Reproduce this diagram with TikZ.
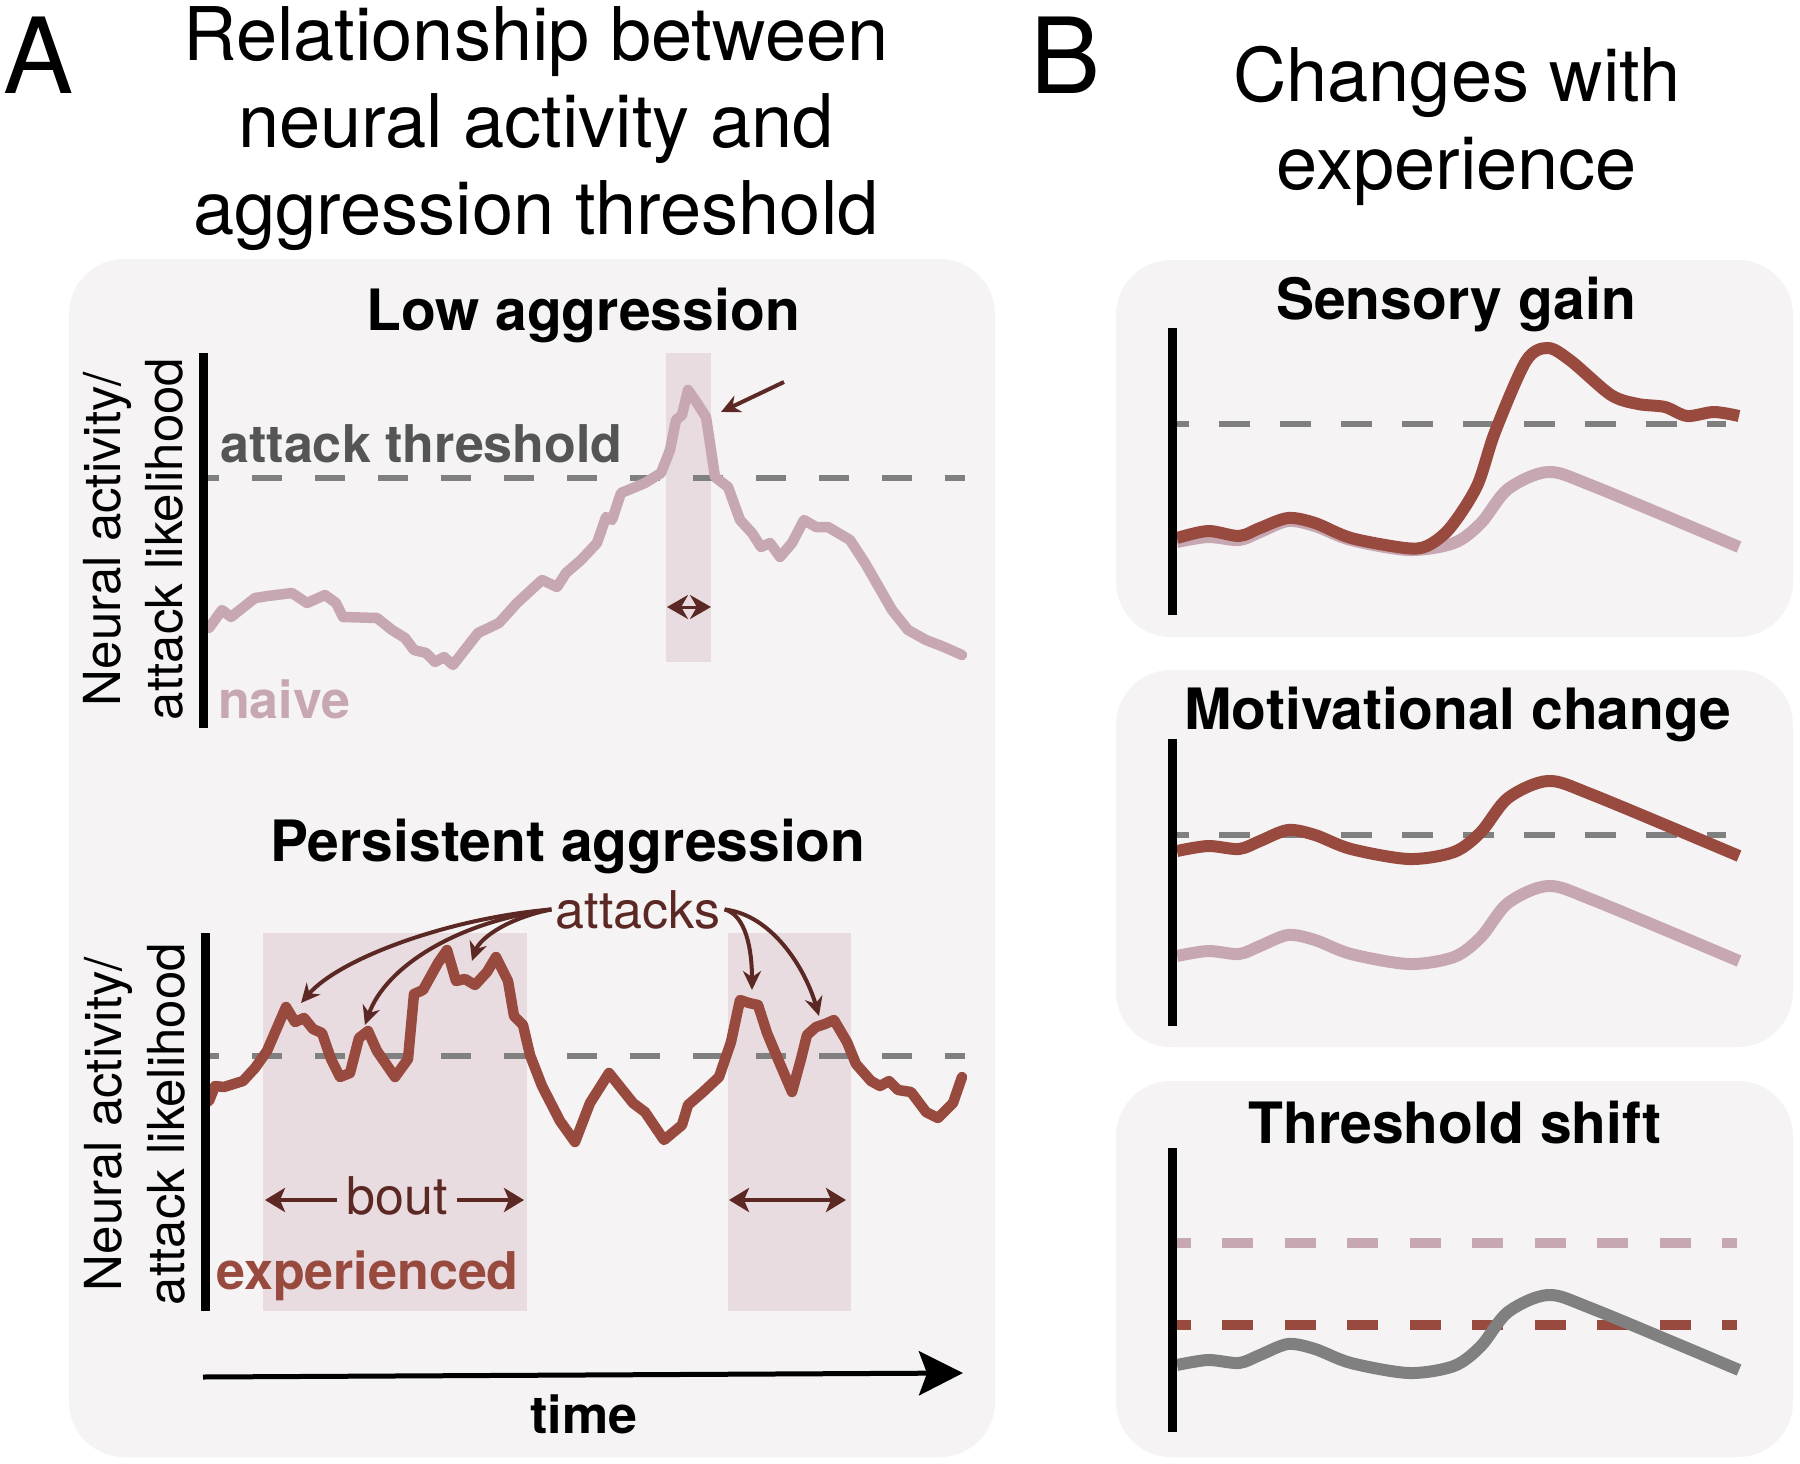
\documentclass[tikz,border=0pt]{standalone}
\usepackage{fontspec}
\setmainfont{TeX Gyre Heros}
\usetikzlibrary{arrows.meta}
\definecolor{boxbg}{RGB}{245,243,244}
\definecolor{bandc}{RGB}{232,220,224}
\definecolor{mauve}{RGB}{199,168,178}
\definecolor{expred}{RGB}{153,74,63}
\definecolor{darkbr}{RGB}{92,40,36}
\definecolor{thrgray}{RGB}{128,128,128}
\definecolor{txtgray}{RGB}{85,85,85}
\newcommand{\fsz}[1]{\fontsize{#1pt}{#1pt}\selectfont}
\newcommand{\baseshape}{plot[smooth,tension=0.5] coordinates {(1177,956) (1208,951) (1239,954) (1260,946) (1288,935) (1315,940) (1351,954) (1409,964) (1454,957) (1481,937) (1508,903) (1548,886) (1593,900) (1739,961)}}
\begin{document}
\begin{tikzpicture}[x=1pt,y=-1pt,
  panelbox/.style={fill=boxbg,rounded corners=55pt},
  bandbox/.style={fill=bandc},
  yaxis/.style={draw=black,line width=9pt},
  thrA/.style={draw=thrgray,line width=6pt,dash pattern=on 30pt off 33pt,dash phase=19pt},
  thrB/.style={draw=thrgray,line width=6pt,dash pattern=on 31pt off 30pt,dash phase=19pt},
  thrC/.style={line width=10pt,dash pattern=on 31pt off 31.5pt,dash phase=17.5pt},
  trace/.style={line width=10.5pt,line join=round,line cap=round},
  smoothtr/.style={line width=12pt,line join=round},
  attackarrow/.style={draw=darkbr,line width=4pt,-{Stealth[length=19pt,width=18pt]}},
  boutarrow/.style={draw=darkbr,line width=4pt,-{Stealth[length=20pt,width=24pt,inset=5pt]}},
  bigtitle/.style={font=\fsz{74},anchor=base,inner sep=0pt},
  letter/.style={font=\fsz{105},anchor=base west,inner sep=0pt},
  paneltitle/.style={font=\bfseries\fsz{57},anchor=base,inner sep=0pt},
  ylab/.style={font=\fsz{51},rotate=90,anchor=base,inner sep=0pt},
  boldlab/.style={font=\bfseries\fsz{52},anchor=base west,inner sep=0pt}
]
\useasboundingbox (0,0) rectangle (1800,1464);

% ---------- panel boxes ----------
\path[panelbox] (69,259) rectangle (995,1457);
\path[panelbox] (1116,260) rectangle (1793,637);
\path[panelbox] (1116,670) rectangle (1793,1047);
\path[panelbox] (1116,1081) rectangle (1793,1457);

% ---------- headings ----------
\node[letter] (labA) at (3,94) {A};
\node[letter] (labB) at (1030,94) {B};
\node[bigtitle] (tA1) at (536,61) {Relationship between};
\node[bigtitle] (tA2) at (536,147) {neural activity and};
\node[bigtitle] (tA3) at (536,234) {aggression threshold};
\node[bigtitle] (tB1) at (1457,102) {Changes with};
\node[bigtitle] (tB2) at (1457,189) {experience};

% ================= Panel A, top: low aggression =================
\node[paneltitle] (lowT) at (583,330) {Low aggression};
\path[bandbox] (666,353) rectangle (711,662);
\draw[thrA] (208,478) -- (965,478);
\draw[trace,mauve] plot coordinates {(209,628) (222,610) (231,617) (255,598) (268,596) (292,593) (307,603) (325,595) (336,603) (343,617) (377,618) (392,630) (405,638) (414,650) (426,653) (435,662) (444,657) (453,665) (478,633) (499,623) (517,603) (542,580) (557,587) (566,573) (581,560) (597,543) (606,517) (612,520) (621,493) (645,483) (661,473) (670,450) (676,420) (682,415) (688,390) (697,403) (706,417) (711,450) (715,477) (728,487) (740,520) (752,533) (761,547) (770,543) (780,557) (792,543) (804,520) (816,527) (828,527) (850,540) (865,563) (892,610) (908,630) (926,640) (944,647) (962,655)};
\draw[yaxis] (203,353) -- (203,728);
\node[ylab] (ylA1) at (120,539) {Neural activity/};
\node[ylab] (ylA2) at (182,539) {attack likelihood};
\node[boldlab,text=txtgray] (thrtxt) at (220,462) {attack threshold};
\node[boldlab,text=mauve] (naive) at (218,718) {naive};
\coordinate (pkstart) at (784,382);
\coordinate (pktip) at (721,412);
\draw[attackarrow] (pkstart) -- (pktip);
\coordinate (sbl) at (667,607);
\coordinate (sbr) at (711,607);
\draw[draw=darkbr,line width=3pt,{Stealth[length=21pt,width=24pt]}-{Stealth[length=21pt,width=24pt]}] (sbl) -- (sbr);

% ================= Panel A, bottom: persistent aggression =================
\node[paneltitle] (perT) at (568,861) {Persistent aggression};
\path[bandbox] (263,933) rectangle (527,1311);
\path[bandbox] (728,933) rectangle (851,1311);
\draw[thrA] (208,1056) -- (965,1056);
\draw[trace,expred] plot coordinates {(209,1101) (215,1086) (224,1087) (243,1081) (255,1068) (267,1051) (286,1007) (295,1022) (304,1018) (313,1029) (322,1033) (331,1059) (340,1077) (350,1073) (359,1038) (368,1031) (377,1051) (395,1077) (408,1059) (414,994) (423,990) (438,963) (447,950) (456,981) (465,979) (475,985) (487,972) (496,957) (508,981) (514,1016) (523,1025) (530,1055) (542,1086) (560,1121) (575,1142) (590,1103) (609,1073) (633,1103) (645,1112) (664,1140) (682,1125) (688,1105) (703,1092) (719,1077) (731,1042) (740,1000) (749,1003) (758,1005) (767,1033) (780,1064) (792,1092) (801,1059) (807,1035) (816,1027) (825,1024) (834,1020) (847,1042) (856,1064) (871,1081) (880,1086) (889,1081) (898,1090) (911,1092) (926,1112) (938,1118) (953,1103) (962,1077)};
\draw[yaxis] (205,933) -- (205,1311);
\node[ylab] (ylB1) at (121,1124) {Neural activity/};
\node[ylab] (ylB2) at (184,1124) {attack likelihood};
\node[boldlab,text=expred] (exper) at (216,1289) {experienced};

\node[font=\fsz{52},text=darkbr,anchor=base,inner sep=4pt] (attk) at (638,928) {attacks};
\coordinate (at1) at (301,1003);
\coordinate (at2) at (365,1025);
\coordinate (at3) at (472,961);
\coordinate (at4) at (752,990);
\coordinate (at5) at (819,1016);
\draw[attackarrow] (attk.west) .. controls (450,918) and (340,958) .. (at1);
\draw[attackarrow] (attk.west) .. controls (455,922) and (385,968) .. (at2);
\draw[attackarrow] (attk.west) .. controls (508,918) and (480,938) .. (at3);
\draw[attackarrow] (attk.east) .. controls (746,915) and (752,950) .. (at4);
\draw[attackarrow] (attk.east) .. controls (772,915) and (805,968) .. (at5);

\node[font=\fsz{52},text=darkbr,anchor=base,inner sep=0pt] (bout) at (397,1214) {bout};
\coordinate (bl) at (265,1200);
\coordinate (br) at (524,1200);
\draw[boutarrow] (bl -| bout.west) ++(-9,0) -- (bl);
\draw[boutarrow] (br -| bout.east) ++(9,0) -- (br);
\coordinate (d1) at (729,1200);
\coordinate (d2) at (846,1200);
\draw[draw=darkbr,line width=4pt,{Stealth[length=20pt,width=24pt,inset=5pt]}-{Stealth[length=20pt,width=24pt,inset=5pt]}] (d1) -- (d2);

\coordinate (t0) at (203,1377);
\coordinate (t1) at (963,1373);
\draw[line width=5pt,-{Stealth[length=44pt,width=44pt,inset=8pt]}] (t0) -- (t1);
\node[font=\bfseries\fsz{52},anchor=base,inner sep=0pt] (time) at (584,1433) {time};

% ================= Panel B =================
% Sensory gain
\node[paneltitle] (sgT) at (1456,319) {Sensory gain};
\draw[thrB] (1177,424) -- (1726,424);
\begin{scope}[shift={(0,-414)}]
  \draw[smoothtr,mauve] \baseshape;
\end{scope}
\draw[smoothtr,expred] plot[smooth,tension=0.5] coordinates {(1177,538) (1208,531) (1239,536) (1260,528) (1288,518) (1315,523) (1351,538) (1405,548) (1427,546) (1450,528) (1477,486) (1495,432) (1526,361) (1548,348) (1571,361) (1611,395) (1638,404) (1665,407) (1687,416) (1714,412) (1739,416)};
\draw[yaxis] (1172,328) -- (1172,615);

% Motivational change
\node[paneltitle] (mcT) at (1458,729) {Motivational change};
\draw[thrB] (1177,835) -- (1726,835);
\draw[smoothtr,mauve] \baseshape;
\begin{scope}[shift={(0,-105)}]
  \draw[smoothtr,expred] \baseshape;
\end{scope}
\draw[yaxis] (1172,739) -- (1172,1026);

% Threshold shift
\node[paneltitle] (tsT) at (1455,1143) {Threshold shift};
\draw[thrC,draw=mauve] (1177,1243) -- (1737,1243);
\draw[thrC,draw=expred] (1177,1325) -- (1737,1325);
\begin{scope}[shift={(0,409)}]
  \draw[smoothtr,thrgray] \baseshape;
\end{scope}
\draw[yaxis] (1172,1148) -- (1172,1432);
\end{tikzpicture}
\end{document}
